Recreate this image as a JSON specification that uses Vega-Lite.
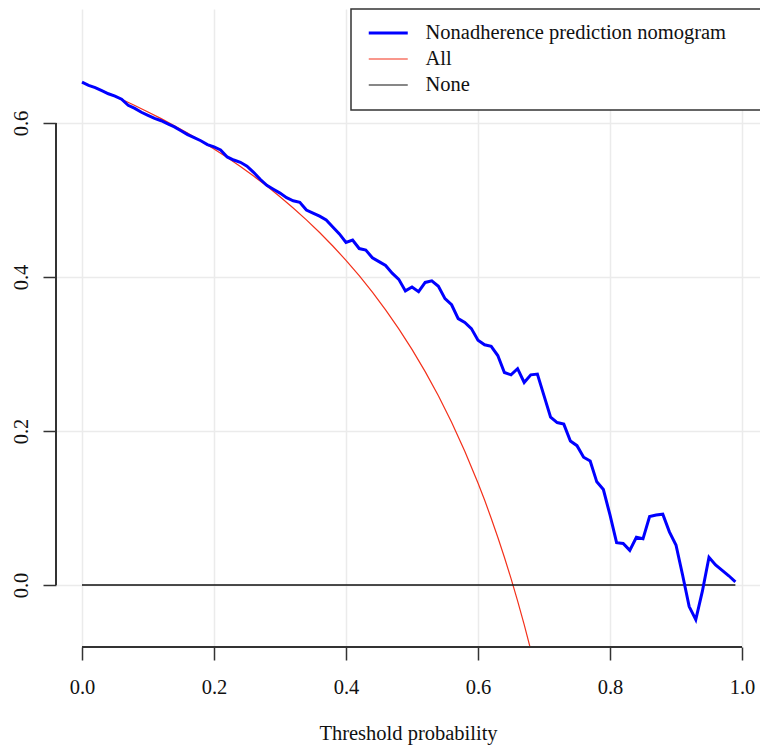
{
  "$schema": "https://vega.github.io/schema/vega-lite/v6.json",
  "width": 704,
  "height": 638,
  "autosize": "none",
  "padding": {"left": 56, "top": 9, "right": 0, "bottom": 98},
  "background": "white",
  "config": {
    "view": {"stroke": null},
    "axis": {
      "domain": false,
      "grid": true,
      "gridColor": "#ebebeb",
      "gridWidth": 1.5,
      "tickColor": "#333",
      "tickSize": 13,
      "tickWidth": 1.5,
      "labelFont": "Liberation Serif",
      "labelFontSize": 20.5,
      "labelColor": "#111",
      "labelFlush": false,
      "labelOverlap": false,
      "titleFont": "Liberation Serif",
      "titleFontSize": 20.5,
      "titleFontWeight": "normal",
      "titleColor": "#111"
    }
  },
  "datasets": {
    "curves": [
      {"t": 0.00, "nb": 0.653, "s": "Nonadherence prediction nomogram"},
      {"t": 0.01, "nb": 0.649, "s": "Nonadherence prediction nomogram"},
      {"t": 0.02, "nb": 0.646, "s": "Nonadherence prediction nomogram"},
      {"t": 0.03, "nb": 0.642, "s": "Nonadherence prediction nomogram"},
      {"t": 0.04, "nb": 0.638, "s": "Nonadherence prediction nomogram"},
      {"t": 0.05, "nb": 0.635, "s": "Nonadherence prediction nomogram"},
      {"t": 0.06, "nb": 0.631, "s": "Nonadherence prediction nomogram"},
      {"t": 0.07, "nb": 0.623, "s": "Nonadherence prediction nomogram"},
      {"t": 0.08, "nb": 0.619, "s": "Nonadherence prediction nomogram"},
      {"t": 0.09, "nb": 0.614, "s": "Nonadherence prediction nomogram"},
      {"t": 0.10, "nb": 0.610, "s": "Nonadherence prediction nomogram"},
      {"t": 0.11, "nb": 0.606, "s": "Nonadherence prediction nomogram"},
      {"t": 0.12, "nb": 0.603, "s": "Nonadherence prediction nomogram"},
      {"t": 0.13, "nb": 0.599, "s": "Nonadherence prediction nomogram"},
      {"t": 0.14, "nb": 0.595, "s": "Nonadherence prediction nomogram"},
      {"t": 0.15, "nb": 0.590, "s": "Nonadherence prediction nomogram"},
      {"t": 0.16, "nb": 0.585, "s": "Nonadherence prediction nomogram"},
      {"t": 0.17, "nb": 0.581, "s": "Nonadherence prediction nomogram"},
      {"t": 0.18, "nb": 0.577, "s": "Nonadherence prediction nomogram"},
      {"t": 0.19, "nb": 0.572, "s": "Nonadherence prediction nomogram"},
      {"t": 0.20, "nb": 0.569, "s": "Nonadherence prediction nomogram"},
      {"t": 0.21, "nb": 0.565, "s": "Nonadherence prediction nomogram"},
      {"t": 0.22, "nb": 0.556, "s": "Nonadherence prediction nomogram"},
      {"t": 0.23, "nb": 0.552, "s": "Nonadherence prediction nomogram"},
      {"t": 0.24, "nb": 0.549, "s": "Nonadherence prediction nomogram"},
      {"t": 0.25, "nb": 0.544, "s": "Nonadherence prediction nomogram"},
      {"t": 0.26, "nb": 0.536, "s": "Nonadherence prediction nomogram"},
      {"t": 0.27, "nb": 0.527, "s": "Nonadherence prediction nomogram"},
      {"t": 0.28, "nb": 0.519, "s": "Nonadherence prediction nomogram"},
      {"t": 0.29, "nb": 0.514, "s": "Nonadherence prediction nomogram"},
      {"t": 0.30, "nb": 0.509, "s": "Nonadherence prediction nomogram"},
      {"t": 0.31, "nb": 0.503, "s": "Nonadherence prediction nomogram"},
      {"t": 0.32, "nb": 0.499, "s": "Nonadherence prediction nomogram"},
      {"t": 0.33, "nb": 0.497, "s": "Nonadherence prediction nomogram"},
      {"t": 0.34, "nb": 0.487, "s": "Nonadherence prediction nomogram"},
      {"t": 0.35, "nb": 0.483, "s": "Nonadherence prediction nomogram"},
      {"t": 0.36, "nb": 0.479, "s": "Nonadherence prediction nomogram"},
      {"t": 0.37, "nb": 0.474, "s": "Nonadherence prediction nomogram"},
      {"t": 0.38, "nb": 0.465, "s": "Nonadherence prediction nomogram"},
      {"t": 0.39, "nb": 0.456, "s": "Nonadherence prediction nomogram"},
      {"t": 0.40, "nb": 0.445, "s": "Nonadherence prediction nomogram"},
      {"t": 0.41, "nb": 0.448, "s": "Nonadherence prediction nomogram"},
      {"t": 0.42, "nb": 0.437, "s": "Nonadherence prediction nomogram"},
      {"t": 0.43, "nb": 0.435, "s": "Nonadherence prediction nomogram"},
      {"t": 0.44, "nb": 0.425, "s": "Nonadherence prediction nomogram"},
      {"t": 0.45, "nb": 0.420, "s": "Nonadherence prediction nomogram"},
      {"t": 0.46, "nb": 0.415, "s": "Nonadherence prediction nomogram"},
      {"t": 0.47, "nb": 0.405, "s": "Nonadherence prediction nomogram"},
      {"t": 0.48, "nb": 0.397, "s": "Nonadherence prediction nomogram"},
      {"t": 0.49, "nb": 0.382, "s": "Nonadherence prediction nomogram"},
      {"t": 0.50, "nb": 0.387, "s": "Nonadherence prediction nomogram"},
      {"t": 0.51, "nb": 0.381, "s": "Nonadherence prediction nomogram"},
      {"t": 0.52, "nb": 0.393, "s": "Nonadherence prediction nomogram"},
      {"t": 0.53, "nb": 0.395, "s": "Nonadherence prediction nomogram"},
      {"t": 0.54, "nb": 0.388, "s": "Nonadherence prediction nomogram"},
      {"t": 0.55, "nb": 0.372, "s": "Nonadherence prediction nomogram"},
      {"t": 0.56, "nb": 0.364, "s": "Nonadherence prediction nomogram"},
      {"t": 0.57, "nb": 0.346, "s": "Nonadherence prediction nomogram"},
      {"t": 0.58, "nb": 0.341, "s": "Nonadherence prediction nomogram"},
      {"t": 0.59, "nb": 0.333, "s": "Nonadherence prediction nomogram"},
      {"t": 0.60, "nb": 0.318, "s": "Nonadherence prediction nomogram"},
      {"t": 0.61, "nb": 0.312, "s": "Nonadherence prediction nomogram"},
      {"t": 0.62, "nb": 0.310, "s": "Nonadherence prediction nomogram"},
      {"t": 0.63, "nb": 0.298, "s": "Nonadherence prediction nomogram"},
      {"t": 0.64, "nb": 0.276, "s": "Nonadherence prediction nomogram"},
      {"t": 0.65, "nb": 0.273, "s": "Nonadherence prediction nomogram"},
      {"t": 0.66, "nb": 0.281, "s": "Nonadherence prediction nomogram"},
      {"t": 0.67, "nb": 0.263, "s": "Nonadherence prediction nomogram"},
      {"t": 0.68, "nb": 0.273, "s": "Nonadherence prediction nomogram"},
      {"t": 0.69, "nb": 0.274, "s": "Nonadherence prediction nomogram"},
      {"t": 0.70, "nb": 0.246, "s": "Nonadherence prediction nomogram"},
      {"t": 0.71, "nb": 0.218, "s": "Nonadherence prediction nomogram"},
      {"t": 0.72, "nb": 0.211, "s": "Nonadherence prediction nomogram"},
      {"t": 0.73, "nb": 0.209, "s": "Nonadherence prediction nomogram"},
      {"t": 0.74, "nb": 0.187, "s": "Nonadherence prediction nomogram"},
      {"t": 0.75, "nb": 0.181, "s": "Nonadherence prediction nomogram"},
      {"t": 0.76, "nb": 0.166, "s": "Nonadherence prediction nomogram"},
      {"t": 0.77, "nb": 0.161, "s": "Nonadherence prediction nomogram"},
      {"t": 0.78, "nb": 0.134, "s": "Nonadherence prediction nomogram"},
      {"t": 0.79, "nb": 0.124, "s": "Nonadherence prediction nomogram"},
      {"t": 0.80, "nb": 0.091, "s": "Nonadherence prediction nomogram"},
      {"t": 0.81, "nb": 0.055, "s": "Nonadherence prediction nomogram"},
      {"t": 0.82, "nb": 0.054, "s": "Nonadherence prediction nomogram"},
      {"t": 0.83, "nb": 0.045, "s": "Nonadherence prediction nomogram"},
      {"t": 0.84, "nb": 0.062, "s": "Nonadherence prediction nomogram"},
      {"t": 0.85, "nb": 0.060, "s": "Nonadherence prediction nomogram"},
      {"t": 0.86, "nb": 0.089, "s": "Nonadherence prediction nomogram"},
      {"t": 0.87, "nb": 0.091, "s": "Nonadherence prediction nomogram"},
      {"t": 0.88, "nb": 0.092, "s": "Nonadherence prediction nomogram"},
      {"t": 0.89, "nb": 0.069, "s": "Nonadherence prediction nomogram"},
      {"t": 0.90, "nb": 0.052, "s": "Nonadherence prediction nomogram"},
      {"t": 0.91, "nb": 0.013, "s": "Nonadherence prediction nomogram"},
      {"t": 0.92, "nb": -0.028, "s": "Nonadherence prediction nomogram"},
      {"t": 0.93, "nb": -0.045, "s": "Nonadherence prediction nomogram"},
      {"t": 0.94, "nb": -0.008, "s": "Nonadherence prediction nomogram"},
      {"t": 0.95, "nb": 0.036, "s": "Nonadherence prediction nomogram"},
      {"t": 0.96, "nb": 0.026, "s": "Nonadherence prediction nomogram"},
      {"t": 0.97, "nb": 0.019, "s": "Nonadherence prediction nomogram"},
      {"t": 0.98, "nb": 0.012, "s": "Nonadherence prediction nomogram"},
      {"t": 0.99, "nb": 0.004, "s": "Nonadherence prediction nomogram"},
      {"t": 0.00, "nb": 0.653, "s": "All"},
      {"t": 0.02, "nb": 0.6459, "s": "All"},
      {"t": 0.04, "nb": 0.6385, "s": "All"},
      {"t": 0.06, "nb": 0.6309, "s": "All"},
      {"t": 0.08, "nb": 0.6228, "s": "All"},
      {"t": 0.10, "nb": 0.6144, "s": "All"},
      {"t": 0.12, "nb": 0.6057, "s": "All"},
      {"t": 0.14, "nb": 0.5965, "s": "All"},
      {"t": 0.16, "nb": 0.5869, "s": "All"},
      {"t": 0.18, "nb": 0.5768, "s": "All"},
      {"t": 0.20, "nb": 0.5663, "s": "All"},
      {"t": 0.22, "nb": 0.5551, "s": "All"},
      {"t": 0.24, "nb": 0.5434, "s": "All"},
      {"t": 0.26, "nb": 0.5311, "s": "All"},
      {"t": 0.28, "nb": 0.5181, "s": "All"},
      {"t": 0.30, "nb": 0.5043, "s": "All"},
      {"t": 0.32, "nb": 0.4897, "s": "All"},
      {"t": 0.34, "nb": 0.4742, "s": "All"},
      {"t": 0.36, "nb": 0.4578, "s": "All"},
      {"t": 0.38, "nb": 0.4403, "s": "All"},
      {"t": 0.40, "nb": 0.4217, "s": "All"},
      {"t": 0.42, "nb": 0.4017, "s": "All"},
      {"t": 0.44, "nb": 0.3804, "s": "All"},
      {"t": 0.46, "nb": 0.3574, "s": "All"},
      {"t": 0.48, "nb": 0.3327, "s": "All"},
      {"t": 0.50, "nb": 0.3060, "s": "All"},
      {"t": 0.52, "nb": 0.2771, "s": "All"},
      {"t": 0.54, "nb": 0.2457, "s": "All"},
      {"t": 0.56, "nb": 0.2114, "s": "All"},
      {"t": 0.58, "nb": 0.1738, "s": "All"},
      {"t": 0.60, "nb": 0.1325, "s": "All"},
      {"t": 0.61, "nb": 0.1103, "s": "All"},
      {"t": 0.62, "nb": 0.0868, "s": "All"},
      {"t": 0.63, "nb": 0.0620, "s": "All"},
      {"t": 0.64, "nb": 0.0361, "s": "All"},
      {"t": 0.65, "nb": 0.0086, "s": "All"},
      {"t": 0.66, "nb": -0.0206, "s": "All"},
      {"t": 0.67, "nb": -0.0515, "s": "All"},
      {"t": 0.68, "nb": -0.0844, "s": "All"},
      {"t": 0.69, "nb": -0.1194, "s": "All"},
      {"t": 0.00, "nb": 0, "s": "None"},
      {"t": 0.99, "nb": 0, "s": "None"}
    ]
  },
  "data": {"name": "curves"},
  "encoding": {
    "x": {
      "field": "t",
      "type": "quantitative",
      "scale": {"domain": [-0.0394, 1.0273], "nice": false, "zero": false},
      "axis": {
        "values": [0, 0.2, 0.4, 0.6, 0.8, 1.0],
        "format": ".1f",
        "labelBaseline": "top",
        "labelPadding": 17,
        "title": "Threshold probability",
        "titleY": 92,
        "titleBaseline": "alphabetic"
      }
    },
    "y": {
      "field": "nb",
      "type": "quantitative",
      "scale": {"domain": [-0.0805, 0.7481], "nice": false, "zero": false},
      "axis": {
        "values": [0, 0.2, 0.4, 0.6],
        "format": ".1f",
        "labelAngle": 270,
        "labelAlign": "center",
        "labelBaseline": "alphabetic",
        "labelPadding": 15.5,
        "title": null
      }
    },
    "color": {
      "field": "s",
      "type": "nominal",
      "scale": {
        "domain": ["Nonadherence prediction nomogram", "All", "None"],
        "range": ["#0000ff", "#f3301a", "#111111"]
      },
      "legend": {
        "title": null,
        "orient": "none",
        "legendX": 295,
        "legendY": 0,
        "padding": 14,
        "clipHeight": 20,
        "rowPadding": 5,
        "symbolType": "stroke",
        "symbolSize": 1521,
        "symbolOffset": 13,
        "labelOffset": 27,
        "labelFont": "Liberation Serif",
        "labelFontSize": 20.5,
        "labelColor": "#111",
        "labelLimit": 0,
        "labelExpr": "datum.label + '\u00a0\u00a0\u00a0\u00a0\u00a0\u200b'",
        "fillColor": "white",
        "strokeColor": "#333",
        "encode": {
          "legend": {"update": {"strokeWidth": {"value": 1.5}}},
          "symbols": {"update": {"strokeWidth": {"signal": "datum.value === 'Nonadherence prediction nomogram' ? 3 : 1.2"}}}
        }
      }
    }
  },
  "layer": [
    {
      "transform": [{"filter": "datum.s === 'All'"}],
      "mark": {"type": "line", "strokeWidth": 1.2, "clip": true}
    },
    {
      "transform": [{"filter": "datum.s === 'None'"}],
      "mark": {"type": "line", "strokeWidth": 1.5, "clip": true, "color": "#333"}
    },
    {
      "transform": [{"filter": "datum.s === 'Nonadherence prediction nomogram'"}],
      "mark": {"type": "line", "strokeWidth": 3, "clip": true}
    },
    {
      "mark": {"type": "rule", "color": "#333", "strokeWidth": 1.5},
      "encoding": {
        "x": {"datum": 0},
        "x2": {"datum": 1},
        "y": {"datum": -0.0805},
        "color": {"value": "#333"}
      }
    },
    {
      "mark": {"type": "rule", "color": "#333", "strokeWidth": 1.5},
      "encoding": {
        "x": {"datum": -0.0394},
        "y": {"datum": 0},
        "y2": {"datum": 0.6},
        "color": {"value": "#333"}
      }
    }
  ]
}
